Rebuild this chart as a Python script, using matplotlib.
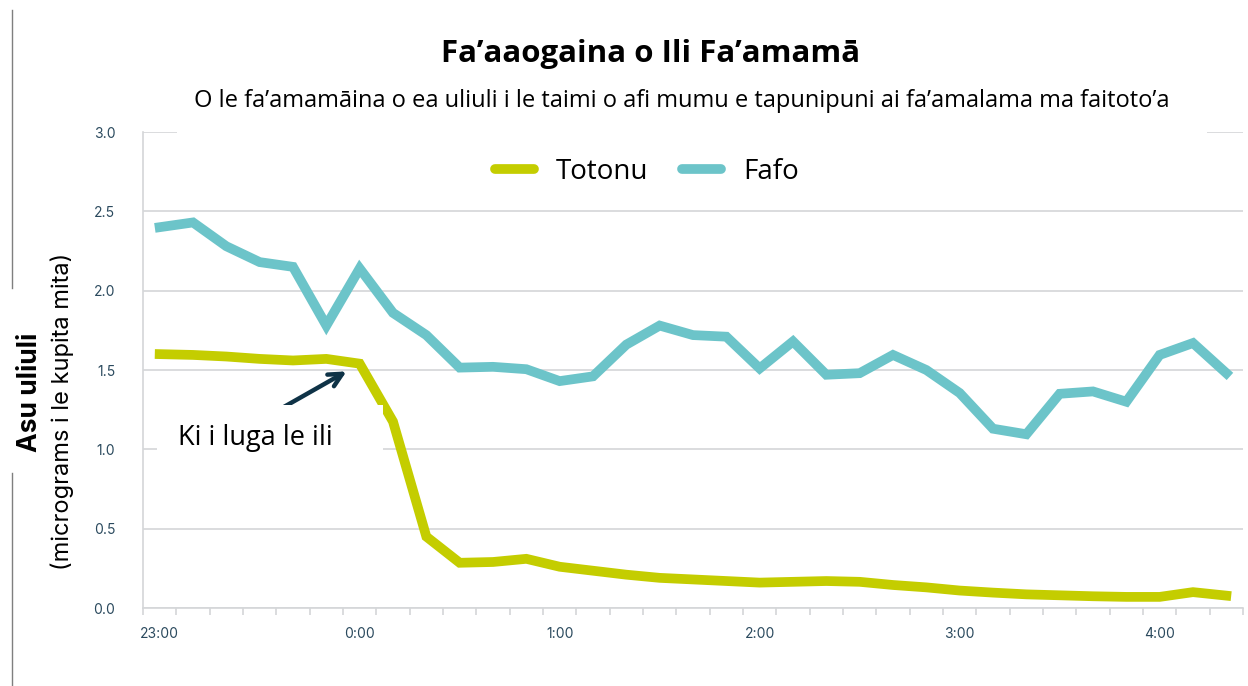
import numpy as np
import matplotlib
matplotlib.use("Agg")
import matplotlib.pyplot as plt
from matplotlib.patches import Rectangle
from matplotlib.lines import Line2D

# time axis, every 10 minutes from 23:00 to 4:20
times = ["23:00", "23:10", "23:20", "23:30", "23:40", "23:50",
         "0:00", "0:10", "0:20", "0:30", "0:40", "0:50",
         "1:00", "1:10", "1:20", "1:30", "1:40", "1:50",
         "2:00", "2:10", "2:20", "2:30", "2:40", "2:50",
         "3:00", "3:10", "3:20", "3:30", "3:40", "3:50",
         "4:00", "4:10", "4:20"]
hour_labels = ["23:00", "0:00", "1:00", "2:00", "3:00", "4:00"]

# inside air with the purifier switched on
totonu = [1.60, 1.595, 1.585, 1.57, 1.56, 1.57, 1.54, 1.175, 0.45, 0.285,
          0.29, 0.31, 0.26, 0.235, 0.21, 0.19, 0.18, 0.17, 0.16, 0.165,
          0.17, 0.165, 0.145, 0.13, 0.11, 0.097, 0.086, 0.08, 0.074, 0.07,
          0.07, 0.10, 0.078]
# outside air
fafo = [2.40, 2.43, 2.28, 2.18, 2.15, 1.78, 2.14, 1.86, 1.72, 1.515,
        1.52, 1.505, 1.43, 1.46, 1.66, 1.78, 1.72, 1.71, 1.51, 1.68,
        1.47, 1.48, 1.595, 1.50, 1.355, 1.13, 1.095, 1.35, 1.365, 1.30,
        1.595, 1.67, 1.48]

YELLOW = "#c4cd00"
TEAL = "#6cc4c9"
TICK_COL = "#2b4a5e"
GRID_COL = "#d4d6d8"

W, H = 1248, 686
fig = plt.figure(figsize=(W / 100, H / 100), dpi=100)
ax = fig.add_axes([143 / W, 1 - 608 / H, 1100 / W, 476 / H])

x = np.arange(len(times))
l1, = ax.plot(x, totonu, color=YELLOW, lw=7, solid_joinstyle="miter", zorder=2)
l2, = ax.plot(x, fafo, color=TEAL, lw=7, solid_joinstyle="miter", zorder=2)

ax.set_xlim(-0.5, len(times) - 0.5)
ax.set_ylim(0, 3.0)
ax.set_yticks(np.arange(0, 3.01, 0.5))
ax.set_yticklabels([f"{v:.1f}" for v in np.arange(0, 3.01, 0.5)],
                   fontsize=10, color=TICK_COL, family="Inter")
ax.tick_params(axis="y", length=0, pad=20)
ax.grid(axis="y", color=GRID_COL, lw=1.2, zorder=0)

# category boundaries get tick marks, hours get labels
ax.set_xticks(np.arange(-0.5, len(times), 1))
ax.set_xticklabels([])
ax.tick_params(axis="x", which="major", length=5, color=GRID_COL, width=1.2)
hour_pos = [times.index(h) for h in hour_labels]
ax.set_xticks(hour_pos, minor=True)
ax.set_xticklabels(hour_labels, minor=True, fontsize=10, color=TICK_COL, family="Inter")
ax.tick_params(axis="x", which="minor", length=0, pad=14)

for s in ["top", "right"]:
    ax.spines[s].set_visible(False)
for s in ["left", "bottom"]:
    ax.spines[s].set_color(GRID_COL)
    ax.spines[s].set_linewidth(1.2)

# white panel behind the annotation
ax.add_patch(Rectangle((14 / 1100, (608 - 475) / 476), 226 / 1100, 70 / 476,
                       transform=ax.transAxes, facecolor="white", edgecolor="none", zorder=3))
ax.annotate("", xy=(5.68, 1.50), xytext=(3.5, 1.24),
            arrowprops=dict(arrowstyle="->", lw=3.2, color="#0f3347", mutation_scale=24), zorder=2.5)
ax.text((255 - 143) / 1100, (608 - 438) / 476, "Ki i luga le ili", transform=ax.transAxes,
        ha="center", va="center", fontsize=19.5, family="Open Sans", zorder=4)

# white box hiding the top gridline behind the title
fig.patches.append(Rectangle((177 / W, 1 - 140 / H), 1030 / W, 120 / H,
                             transform=fig.transFigure, facecolor="white",
                             edgecolor="none", zorder=1))

fig.text(651 / W, 1 - 54 / H, "Fa\u2019aaogaina o Ili Fa\u2019amam\u0101", ha="center", va="center",
         fontsize=22.5, fontweight="bold", family="Open Sans")
fig.text(682 / W, 1 - 101 / H,
         "O le fa\u2019amam\u0101ina o ea uliuli i le taimi o afi mumu e tapunipuni ai fa\u2019amalama ma faitoto\u2019a",
         ha="center", va="center", fontsize=17, family="Open Sans")

leg = fig.legend([l1, l2], ["Totonu", "Fafo"], loc="center", bbox_to_anchor=(647 / W, 1 - 172 / H),
                 ncol=2, frameon=False, handlelength=1.4, handletextpad=0.8, columnspacing=1.2,
                 prop={"family": "Open Sans", "size": 20})
for h in leg.legend_handles:
    h.set_solid_capstyle("round")
    h.set_linewidth(7)

fig.text(30 / W, 1 - 392 / H, "Asu uliuli", rotation=90, ha="center", va="center",
         fontsize=19, fontweight="bold", family="Inter")
fig.text(62 / W, 1 - 411 / H, "(micrograms i le kupita mita)", rotation=90, ha="center", va="center",
         fontsize=17, family="Inter")

# left border of the slide
fig.add_artist(Line2D([12 / W, 12 / W], [1 - 10 / H, 1 - 288 / H], color="#7f7f7f", lw=1))
fig.add_artist(Line2D([12 / W, 12 / W], [1 - 473 / H, 0], color="#7f7f7f", lw=1))

fig.savefig("out.png", dpi=100)
